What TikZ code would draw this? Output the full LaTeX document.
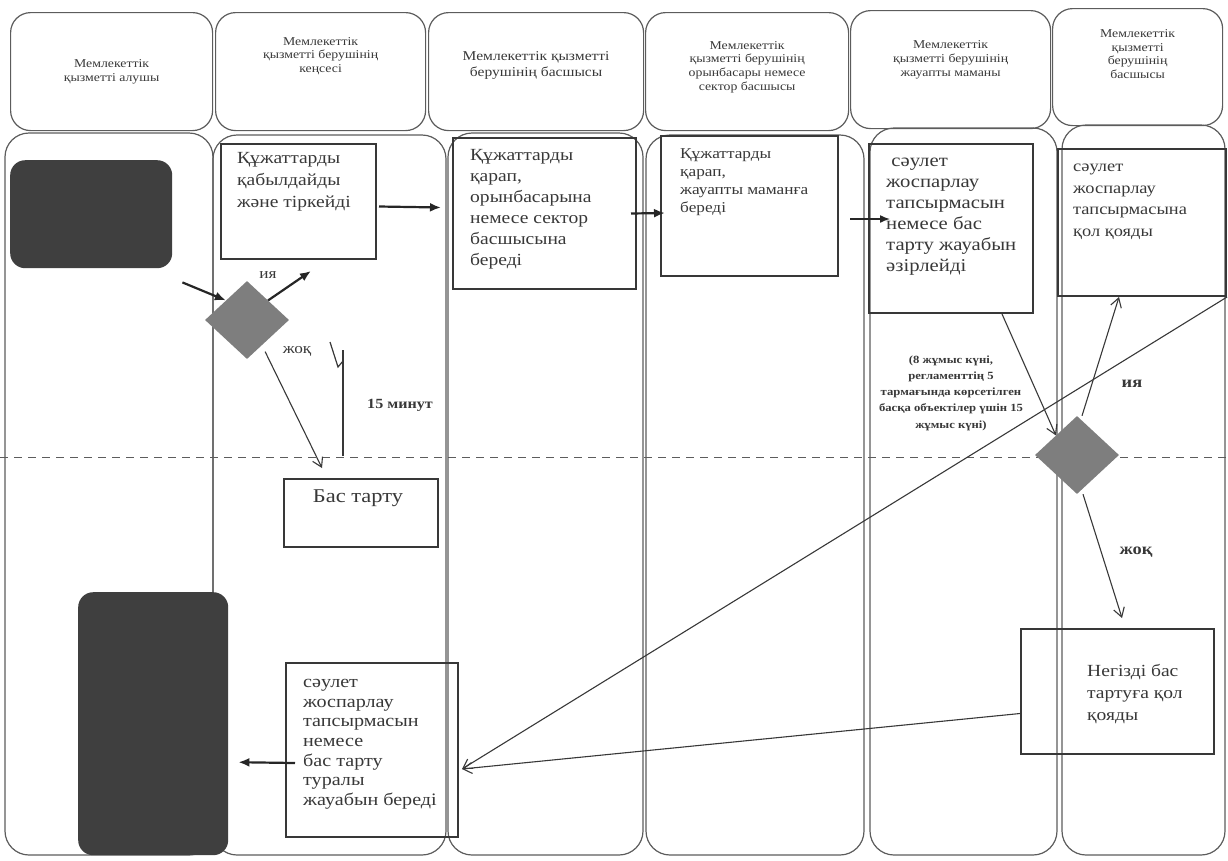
\documentclass[tikz,border=0pt]{standalone}
\usepackage{fontspec}
\setmainfont[FakeStretch=1.15]{Liberation Serif}
\usetikzlibrary{shapes.geometric,arrows.meta,positioning}
\definecolor{ink}{HTML}{383838}
\definecolor{lanegray}{HTML}{5C5C5C}
\definecolor{termgray}{HTML}{3F3F3F}
\definecolor{decgray}{HTML}{7E7E7E}
\tikzset{
  headbox/.style={draw=lanegray, line width=1.2pt, rounded corners=20pt, anchor=north west, inner sep=0pt},
  lanebody/.style={draw=lanegray, line width=1.2pt, rounded corners=24pt},
  stepbox/.style={draw=ink, line width=2pt, anchor=north west, inner sep=0pt},
  boxtxt/.style={anchor=north west, align=left, inner sep=0pt, text=ink},
  headtxt/.style={align=center, inner sep=0pt, text=ink, font=\fontsize{12}{13.8}\selectfont},
  terminal/.style={fill=termgray, rounded corners=15pt, anchor=north west, inner sep=0pt},
  decision/.style={diamond, fill=decgray, inner sep=0pt, minimum width=84pt, minimum height=78pt},
  bigarr/.style={-{Latex[length=11pt,width=9pt]}, line width=2.2pt, draw=black!85},
  midarr/.style={-{Latex[length=10pt,width=8pt]}, line width=1.5pt, draw=black!85},
  thinarr/.style={-{Straight Barb[length=9pt,width=11pt]}, line width=1.1pt, draw=ink},
  lbl/.style={inner sep=0pt, text=ink, font=\fontsize{15}{17}\selectfont},
}
\begin{document}
\begin{tikzpicture}[x=1pt,y=-1pt]
\useasboundingbox (0,0) rectangle (1228,860);
% headers
\node[headbox, minimum width=202pt, minimum height=118pt] (h1) at (10,12) {};
\node[headbox, minimum width=210pt, minimum height=118pt] (h2) at (215,12) {};
\node[headbox, minimum width=215pt, minimum height=118pt] (h3) at (428,12) {};
\node[headbox, minimum width=203pt, minimum height=118pt] (h4) at (645,12) {};
\node[headbox, minimum width=200pt, minimum height=118pt] (h5) at (850,10) {};
\node[headbox, minimum width=170pt, minimum height=117pt] (h6) at (1052,8) {};
\node[headtxt] (h1t) at (h1.center |- 0,72) {Мемлекеттік\\қызметті алушы};
\node[headtxt] (h2t) at (h2.center |- 0,56) {Мемлекеттік\\қызметті берушінің\\кеңсесі};
\node[headtxt, font=\fontsize{13.5}{16}\selectfont] (h3t) at (h3.center |- 0,65) {Мемлекеттік қызметті\\берушінің басшысы};
\node[headtxt] (h4t) at (h4.center |- 0,67) {Мемлекеттік\\қызметті берушінің\\орынбасары немесе\\сектор басшысы};
\node[headtxt] (h5t) at (h5.center |- 0,60) {Мемлекеттік\\қызметті берушінің\\жауапты маманы};
\node[headtxt] (h6t) at (h6.center |- 0,54) {Мемлекеттік\\қызметті\\берушінің\\басшысы};
% lanes
\draw[lanebody] (5,133) rectangle (213,855);
\draw[lanebody] (213,135) rectangle (446,855);
\draw[lanebody] (448,133) rectangle (643,855);
\draw[lanebody] (646,135) rectangle (864,855);
\draw[lanebody] (870,128) rectangle (1057,855);
\draw[lanebody] (1062,125) rectangle (1225,855);
\draw[lanegray, line width=1pt, dash pattern=on 8pt off 6pt] (0,457) -- (1228,457);
% terminals and decisions
\node[terminal, minimum width=162pt, minimum height=108pt] (st) at (10,160) {};
\node[terminal, minimum width=150pt, minimum height=263pt] (en) at (78,592) {};
\node[decision] (d1) at (247,320) {};
\node[decision] (d2) at (1077,455) {};
% steps
\node[stepbox, minimum width=155pt, minimum height=115pt] (A) at (220,143) {};
\node[stepbox, minimum width=183pt, minimum height=151pt] (B) at (452,137) {};
\node[stepbox, minimum width=177pt, minimum height=140pt] (C) at (660,135) {};
\node[stepbox, minimum width=164pt, minimum height=169pt] (D) at (868,143) {};
\node[stepbox, minimum width=168pt, minimum height=147pt] (E) at (1057,148) {};
\node[stepbox, minimum width=154pt, minimum height=68pt] (bt) at (283,478) {};
\node[stepbox, minimum width=172pt, minimum height=174pt] (fin) at (285,662) {};
\node[stepbox, minimum width=193pt, minimum height=125pt] (ng) at (1020,628) {};
\node[boxtxt, font=\fontsize{17}{22}\selectfont] (At) at (237,152) {Құжаттарды\\қабылдайды\\және тіркейді};
\node[boxtxt, font=\fontsize{17}{21}\selectfont] (Bt) at (470,149) {Құжаттарды\\қарап,\\орынбасарына\\немесе сектор\\басшысына\\береді};
\node[boxtxt, font=\fontsize{15}{18}\selectfont] (Ct) at (680,148) {Құжаттарды\\қарап,\\жауапты маманға\\береді};
\node[boxtxt, font=\fontsize{18}{21}\selectfont] (Dt) at (886,158) {\ сәулет\\жоспарлау\\тапсырмасын\\немесе бас\\тарту жауабын\\әзірлейді};
\node[boxtxt, font=\fontsize{16}{21.5}\selectfont] (Et) at (1073,164) {сәулет\\жоспарлау\\тапсырмасына\\қол қояды};
\node[inner sep=0pt, text=ink, font=\fontsize{19.5}{24}\selectfont] (btt) at (358,498) {Бас тарту};
\node[boxtxt, font=\fontsize{17.5}{19.7}\selectfont] (fint) at (303,679) {сәулет\\жоспарлау\\тапсырмасын\\немесе\\бас тарту\\туралы\\жауабын береді};
\node[boxtxt, font=\fontsize{17}{22}\selectfont] (ngt) at (1087,664) {Негізді бас\\тартуға қол\\қояды};
% labels
\node[lbl] (ya1) at (268,275) {ия};
\node[lbl] (jo1) at (297,351) {жоқ};
\node[lbl, font=\bfseries\fontsize{14}{17}\selectfont] (min) at (400,405) {15 минут};
\node[lbl, align=center, font=\bfseries\fontsize{11}{16.2}\selectfont] (note) at (951,393) {(8 жұмыс күні,\\регламенттің 5\\тармағында көрсетілген\\басқа объектілер үшін 15\\жұмыс күні)};
\node[lbl, font=\bfseries\fontsize{16}{18}\selectfont] (ya2) at (1132,384) {ия};
\node[lbl, font=\bfseries\fontsize{16}{18}\selectfont] (jo2) at (1136,552) {жоқ};
\coordinate (yes1) at (311,271);
% connectors
\draw[bigarr] ([shift={(10,14)}]st.south east) -- (d1.north west);
\draw[bigarr] (d1.north east) -- (yes1);
\draw[thinarr] ([shift={(-3,12)}]d1.south east) -- ([shift={(39,-10)}]bt.north west);
\draw[ink, line width=1.2pt] (330,342) -- (338,367) -- (343,361);
\draw[ink, line width=1.2pt] (343,350) -- (343,456);
\draw[bigarr] ([shift={(2,5)}]A.east) -- ([shift={(-11,-6)}]B.west);
\draw[bigarr] ([xshift=-6]B.east) -- ([shift={(5,7)}]C.west);
\draw[midarr] ([shift={(11,13)}]C.east) -- ([shift={(22,-9.5)}]D.west);
\draw[thinarr] ([xshift=-32]D.south east) -- (d2.north west);
\draw[thinarr] ([xshift=5]d2.north) -- ([xshift=-23]E.south);
\draw[thinarr] ([xshift=6]d2.south) -- ([shift={(102,-10)}]ng.north west);
\draw[thinarr] (E.south east) -- ([shift={(3,19)}]fin.east);
\draw[thinarr] ([shift={(0,22)}]ng.west) -- ([shift={(3,19)}]fin.east);
\draw[bigarr] ([shift={(10,13)}]fin.west) -- ([shift={(10,38.5)}]en.east);
\end{tikzpicture}
\end{document}
